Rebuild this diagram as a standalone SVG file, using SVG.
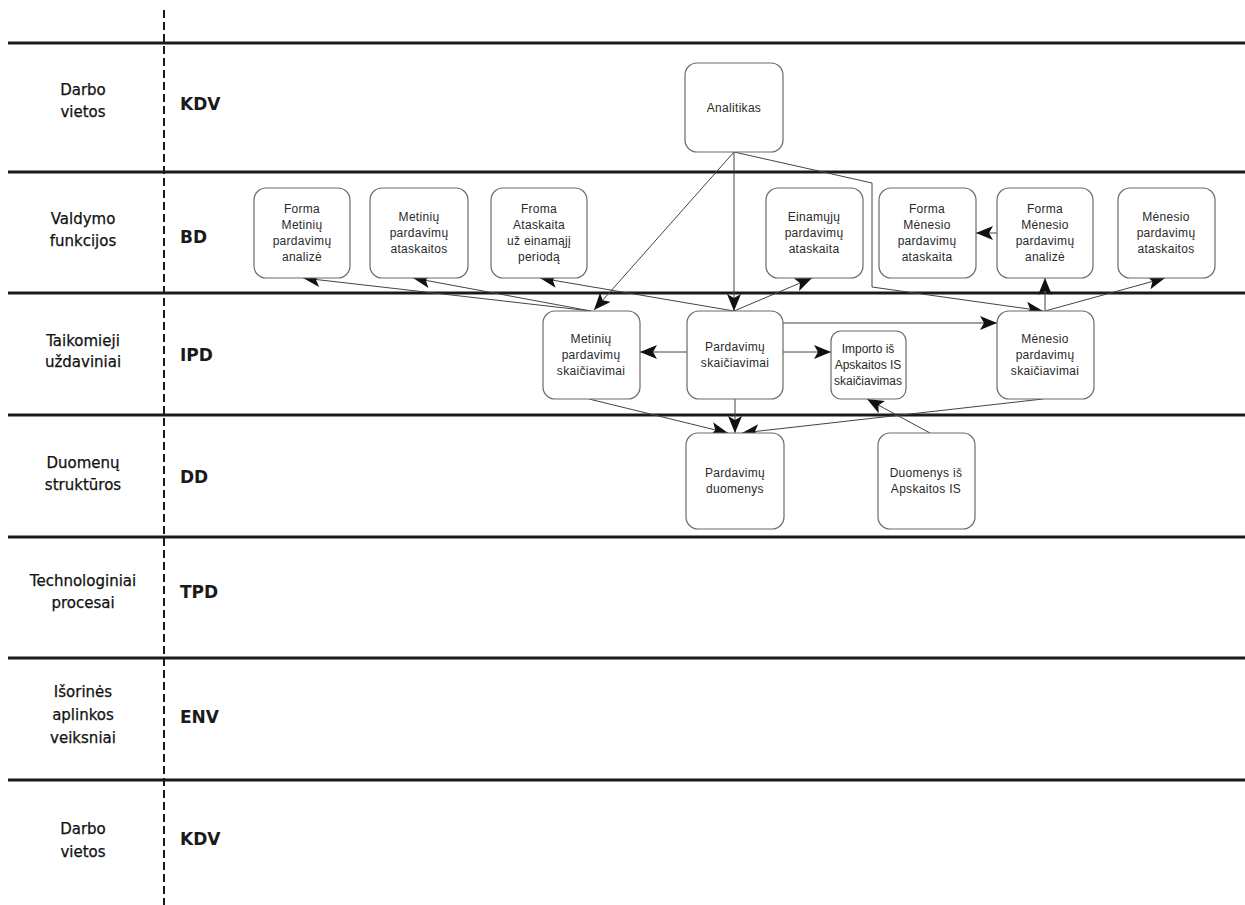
<svg xmlns="http://www.w3.org/2000/svg" width="1245" height="905" viewBox="0 0 1245 905">
<style>
.lane{stroke:#1a1a1a;stroke-width:3;fill:none}
.dash{stroke:#1a1a1a;stroke-width:2;stroke-dasharray:8 4;fill:none}
.lbl{font-family:"DejaVu Sans",sans-serif;font-size:15px;fill:#111;text-anchor:middle;stroke:#111;stroke-width:0.25}
.code{font-family:"DejaVu Sans",sans-serif;font-size:17px;font-weight:bold;fill:#1a1a1a}
.box{fill:#fff;stroke:#6a6a6a;stroke-width:1.2}
.nt{font-family:"Liberation Sans",Arial,sans-serif;font-size:12px;fill:#2a2a2a;text-anchor:middle;letter-spacing:0.3px}
.c{stroke:#444;stroke-width:1;fill:none;marker-end:url(#ah)}
</style>
<defs>
<marker id="ah" markerUnits="userSpaceOnUse" markerWidth="18" markerHeight="14" refX="17" refY="7" orient="auto">
<path d="M0,0 L17,7 L0,14 L4,7 z" fill="#111"/>
</marker>
</defs>
<rect width="1245" height="905" fill="#fff"/>
<g id="lanes">
<line class="lane" x1="8" y1="43" x2="1245" y2="43"/>
<line class="lane" x1="8" y1="172" x2="1245" y2="172"/>
<line class="lane" x1="8" y1="293" x2="1245" y2="293"/>
<line class="lane" x1="8" y1="415" x2="1245" y2="415"/>
<line class="lane" x1="8" y1="537" x2="1245" y2="537"/>
<line class="lane" x1="8" y1="658" x2="1245" y2="658"/>
<line class="lane" x1="8" y1="780" x2="1245" y2="780"/>
<line class="dash" x1="164" y1="10" x2="164" y2="905"/>
</g>
<g id="lane-labels">
<text class="lbl" x="83" y="95">Darbo</text><text class="lbl" x="83" y="117">vietos</text>
<text class="code" x="180" y="110">KDV</text>
<text class="lbl" x="83" y="224">Valdymo</text><text class="lbl" x="83" y="246">funkcijos</text>
<text class="code" x="180" y="243">BD</text>
<text class="lbl" x="83" y="346">Taikomieji</text><text class="lbl" x="83" y="367">uždaviniai</text>
<text class="code" x="180" y="361">IPD</text>
<text class="lbl" x="83" y="468">Duomenų</text><text class="lbl" x="83" y="490">struktūros</text>
<text class="code" x="180" y="483">DD</text>
<text class="lbl" x="83" y="586">Technologiniai</text><text class="lbl" x="83" y="608">procesai</text>
<text class="code" x="180" y="598">TPD</text>
<text class="lbl" x="83" y="697">Išorinės</text><text class="lbl" x="83" y="720">aplinkos</text><text class="lbl" x="83" y="743">veiksniai</text>
<text class="code" x="180" y="723">ENV</text>
<text class="lbl" x="83" y="834">Darbo</text><text class="lbl" x="83" y="857">vietos</text>
<text class="code" x="180" y="845">KDV</text>
</g>
<g id="connectors">
<line class="c" x1="734" y1="152" x2="594" y2="310"/>
<line class="c" x1="734" y1="152" x2="734" y2="311"/>
<polyline class="c" points="734,152 872,183 872,287 1043,311"/>
<line class="c" x1="591" y1="311" x2="303" y2="278"/>
<line class="c" x1="591" y1="311" x2="413" y2="278"/>
<line class="c" x1="734" y1="311" x2="540" y2="278"/>
<line class="c" x1="734" y1="311" x2="812" y2="278"/>
<line class="c" x1="687" y1="352" x2="640" y2="352"/>
<line class="c" x1="783" y1="352" x2="831" y2="352"/>
<line class="c" x1="783" y1="323" x2="997" y2="323"/>
<line class="c" x1="735" y1="399" x2="735" y2="433"/>
<line class="c" x1="589" y1="399" x2="728" y2="433"/>
<line class="c" x1="1043" y1="399" x2="742" y2="433"/>
<line class="c" x1="930" y1="433" x2="867" y2="399"/>
<line class="c" x1="1045" y1="311" x2="1045" y2="278"/>
<line class="c" x1="1045" y1="311" x2="1165" y2="278"/>
<line class="c" x1="997" y1="233" x2="976" y2="233"/>
</g>
<g id="n-analitikas"><rect class="box" x="685" y="63" width="98" height="89" rx="12"/><text class="nt" x="734" y="112">Analitikas</text></g>
<g id="n-forma-metiniu-analize"><rect class="box" x="254" y="188" width="96" height="90" rx="12"/>
<text class="nt" x="302" y="213">Forma</text><text class="nt" x="302" y="229">Metinių</text><text class="nt" x="302" y="245">pardavimų</text><text class="nt" x="302" y="261">analizė</text></g>
<g id="n-metiniu-ataskaitos"><rect class="box" x="370" y="188" width="98" height="90" rx="12"/>
<text class="nt" x="419" y="221">Metinių</text><text class="nt" x="419" y="237">pardavimų</text><text class="nt" x="419" y="253">ataskaitos</text></g>
<g id="n-froma-ataskaita"><rect class="box" x="491" y="188" width="96" height="90" rx="12"/>
<text class="nt" x="539" y="213">Froma</text><text class="nt" x="539" y="229">Ataskaita</text><text class="nt" x="539" y="245">už einamąjį</text><text class="nt" x="539" y="261">periodą</text></g>
<g id="n-einamuju"><rect class="box" x="766" y="188" width="97" height="90" rx="12"/>
<text class="nt" x="814" y="221">Einamųjų</text><text class="nt" x="814" y="237">pardavimų</text><text class="nt" x="814" y="253">ataskaita</text></g>
<g id="n-forma-menesio-ataskaita"><rect class="box" x="879" y="188" width="97" height="90" rx="12"/>
<text class="nt" x="927" y="213">Forma</text><text class="nt" x="927" y="229">Mėnesio</text><text class="nt" x="927" y="245">pardavimų</text><text class="nt" x="927" y="261">ataskaita</text></g>
<g id="n-forma-menesio-analize"><rect class="box" x="997" y="188" width="96" height="90" rx="12"/>
<text class="nt" x="1045" y="213">Forma</text><text class="nt" x="1045" y="229">Mėnesio</text><text class="nt" x="1045" y="245">pardavimų</text><text class="nt" x="1045" y="261">analizė</text></g>
<g id="n-menesio-ataskaitos"><rect class="box" x="1118" y="188" width="97" height="90" rx="12"/>
<text class="nt" x="1166" y="221">Mėnesio</text><text class="nt" x="1166" y="237">pardavimų</text><text class="nt" x="1166" y="253">ataskaitos</text></g>
<g id="n-metiniu-skaiciavimai"><rect class="box" x="543" y="311" width="97" height="88" rx="12"/>
<text class="nt" x="591" y="343">Metinių</text><text class="nt" x="591" y="359">pardavimų</text><text class="nt" x="591" y="375">skaičiavimai</text></g>
<g id="n-pardavimu-skaiciavimai"><rect class="box" x="687" y="311" width="96" height="88" rx="12"/>
<text class="nt" x="735" y="351">Pardavimų</text><text class="nt" x="735" y="367">skaičiavimai</text></g>
<g id="n-importo"><rect class="box" x="831" y="331" width="75" height="68" rx="10"/>
<text class="nt" x="868" y="353" style="letter-spacing:0">Importo iš</text><text class="nt" x="868" y="369" style="letter-spacing:0">Apskaitos IS</text><text class="nt" x="868" y="385" style="letter-spacing:0">skaičiavimas</text></g>
<g id="n-menesio-skaiciavimai"><rect class="box" x="997" y="311" width="97" height="88" rx="12"/>
<text class="nt" x="1045" y="343">Mėnesio</text><text class="nt" x="1045" y="359">pardavimų</text><text class="nt" x="1045" y="375">skaičiavimai</text></g>
<g id="n-pardavimu-duomenys"><rect class="box" x="686" y="433" width="98" height="96" rx="12"/>
<text class="nt" x="735" y="477">Pardavimų</text><text class="nt" x="735" y="493">duomenys</text></g>
<g id="n-duomenys-apskaitos"><rect class="box" x="878" y="433" width="97" height="96" rx="12"/>
<text class="nt" x="926" y="477">Duomenys iš</text><text class="nt" x="926" y="493">Apskaitos IS</text></g>
</svg>
